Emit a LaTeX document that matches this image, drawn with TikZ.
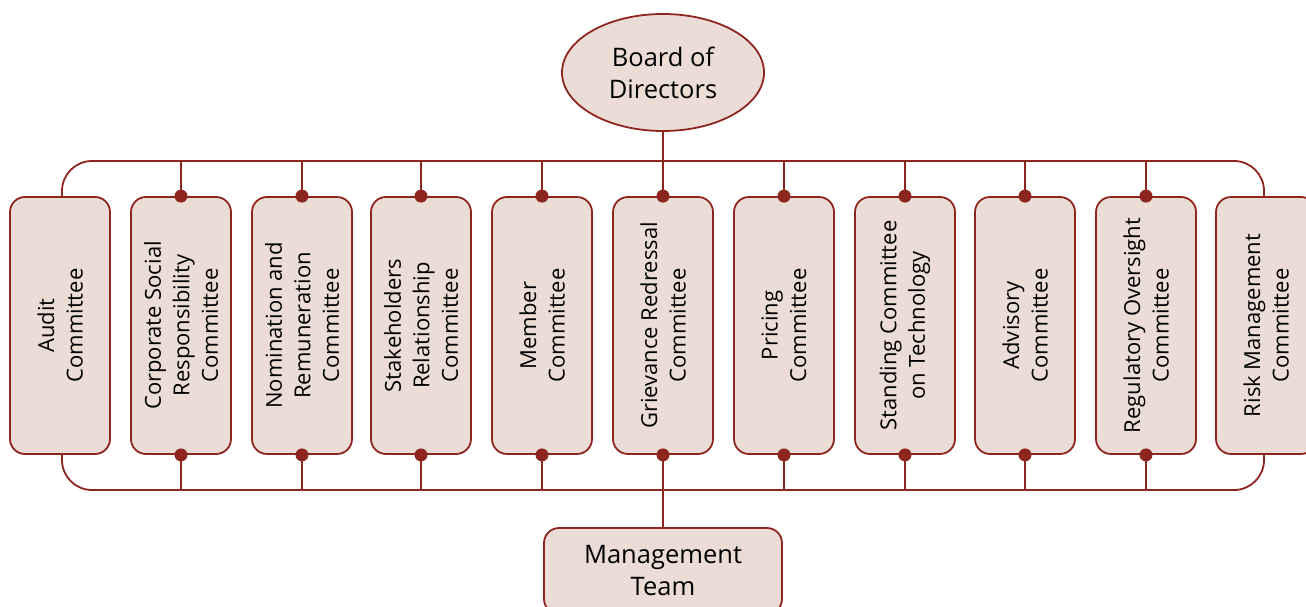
\documentclass[tikz,border=0pt]{standalone}
\usepackage{fontspec}
\setmainfont{Open Sans}
\usetikzlibrary{shapes.geometric}
\definecolor{linered}{HTML}{8E2620}
\definecolor{boxfill}{HTML}{EBDDD5}
\tikzset{
  link/.style={draw=linered, line width=1.8pt},
  cbox/.style={draw=linered, fill=boxfill, line width=1.8pt, rounded corners=15pt,
    minimum width=100pt, minimum height=257pt, inner sep=0pt},
  clabel/.style={rotate=90, align=center, font=\fontsize{22}{28.5}\selectfont, text=black},
  dot/.style={circle, fill=linered, inner sep=0pt, minimum size=13pt},
}
\begin{document}
\begin{tikzpicture}[x=1pt, y=-1pt]
\useasboundingbox (0,0) rectangle (1306,607);

% top executive body
\node[ellipse, draw=linered, fill=boxfill, line width=1.8pt, minimum width=202pt,
  minimum height=117pt, inner sep=0pt, align=center,
  font=\fontsize{25.5}{32}\selectfont] (board) at (663,72.5) {Board of\\Directors};

% committee boxes
\foreach \i/\cx/\txt in {
  1/60/{Audit\\Committee},
  2/181/{Corporate Social\\Responsibility\\Committee},
  3/302/{Nomination and\\Remuneration\\Committee},
  4/421/{Stakeholders\\Relationship\\Committee},
  5/542/{Member\\Committee},
  6/663/{Grievance Redressal\\Committee},
  7/784/{Pricing\\Committee},
  8/905/{Standing Committee\\on Technology},
  9/1025/{Advisory\\Committee},
  10/1146/{Regulatory Oversight\\Committee},
  11/1266/{Risk Management\\Committee}}{
  \node[cbox] (c\i) at (\cx,325.5) {};
  \node[clabel] (t\i) at (c\i.center) {\txt};
}

% management box
\node[draw=linered, fill=boxfill, line width=1.8pt, rounded corners=15pt,
  minimum width=238pt, minimum height=86pt, inner sep=0pt, align=center,
  font=\fontsize{25.5}{32}\selectfont] (mgmt) at (663,571) {Management\\Team};

% top and bottom buses
\coordinate (tl) at (62,161);
\coordinate (tr) at (1264,161);
\coordinate (bl) at (62,490);
\coordinate (br) at (1264,490);
\draw[link, rounded corners=30pt] (c1.north -| tl) -- (tl) -- (tr) -- (c11.north -| tr);
\draw[link, rounded corners=30pt] (c1.south -| bl) -- (bl) -- (br) -- (c11.south -| br);

% drops to the inner committees
\foreach \i in {2,3,4,5,7,8,9,10}{
  \draw[link] (c\i.north) -- (c\i.north |- tl);
  \draw[link] (c\i.south) -- (c\i.south |- bl);
  \node[dot] at (c\i.north) {};
  \node[dot] at (c\i.south) {};
}
\draw[link] (board.south) -- (c6.north);
\draw[link] (c6.south) -- (mgmt.north);
\node[dot] at (c6.north) {};
\node[dot] at (c6.south) {};
\end{tikzpicture}
\end{document}
